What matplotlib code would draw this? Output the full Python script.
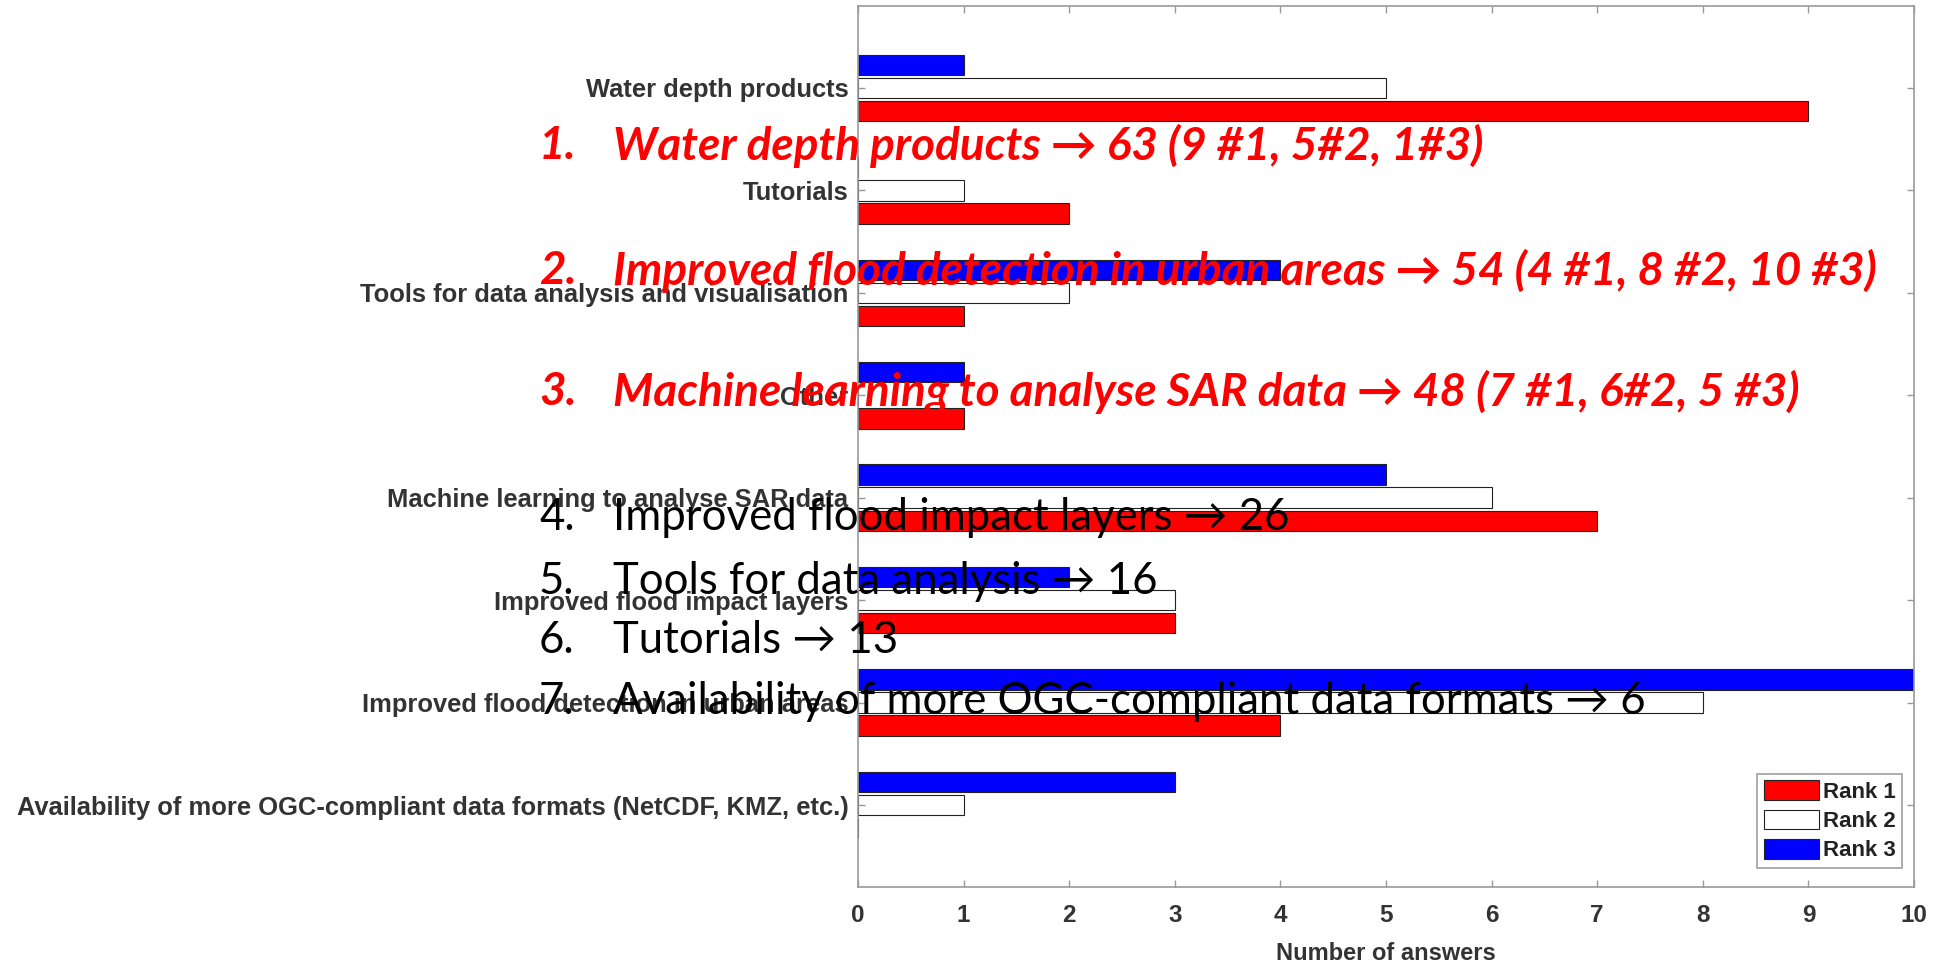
import numpy as np
import matplotlib.pyplot as plt
from matplotlib.patches import Patch

# Categories, top to bottom as in the chart
categories = [
    "Water depth products",
    "Tutorials",
    "Tools for data analysis and visualisation",
    "Other",
    "Machine learning to analyse SAR data",
    "Improved flood impact layers",
    "Improved flood detection in urban areas",
    "Availability of more OGC-compliant data formats (NetCDF, KMZ, etc.)",
]
rank1 = [9, 2, 1, 1, 7, 3, 4, 0]
rank2 = [5, 1, 2, 0, 6, 3, 8, 1]
rank3 = [1, 0, 4, 1, 5, 2, 10, 3]
rank_names = ["Rank 1", "Rank 2", "Rank 3"]
x_ticks = list(range(0, 11))

# Overlay summary list
top_lines = [
    "Water depth products \u2192 63 (9 #1, 5#2, 1#3)",
    "Improved flood detection in urban areas \u2192 54 (4 #1, 8 #2, 10 #3)",
    "Machine learning to analyse SAR data \u2192 48 (7 #1, 6#2, 5 #3)",
]
other_lines = [
    "Improved flood impact layers \u2192 26",
    "Tools for data analysis \u2192 16",
    "Tutorials \u2192 13",
    "Availability of more OGC-compliant data formats \u2192 6",
]

W, H = 1934, 963
fig = plt.figure(figsize=(W / 100, H / 100), dpi=100)
ax = fig.add_axes([858 / W, 1 - 887 / H, (1914 - 858) / W, (887 - 6) / H])

n = len(categories)
y = np.arange(n, 0, -1)  # top category gets the largest y
h = 0.2
off = 0.225
edge = "#222222"
ax.barh(y - off, rank1, height=h, color="#ff0000", edgecolor=edge, linewidth=0.8)
ax.barh(y, rank2, height=h, color="white", edgecolor=edge, linewidth=0.8)
ax.barh(y + off, rank3, height=h, color="#0000ff", edgecolor=edge, linewidth=0.8)

ax.set_xlim(0, 10)
ax.set_ylim(0.2, n + 0.8)
ax.set_xticks(x_ticks)
ax.set_yticks(y)
ax.set_yticklabels(categories)

lab_font = dict(family="Liberation Sans", weight="bold", size=17)
for lbl in ax.get_xticklabels():
    lbl.set_fontfamily("Liberation Sans")
    lbl.set_fontweight("bold")
    lbl.set_fontsize(17.5)
    lbl.set_color("#333333")
for lbl in ax.get_yticklabels():
    lbl.set_fontfamily("Liberation Sans")
    lbl.set_fontweight("bold")
    lbl.set_fontsize(18.4)
    lbl.set_color("#333333")

for s in ax.spines.values():
    s.set_color("#999999")
    s.set_linewidth(1.2)
ax.tick_params(axis="both", direction="in", color="#999999", length=5, width=1,
               top=True, right=True)
ax.tick_params(axis="y", pad=7)
ax.tick_params(axis="x", pad=12)
ax.set_xlabel("Number of answers", fontdict=lab_font, color="#333333", labelpad=11)

handles = [Patch(facecolor=c, edgecolor=edge, linewidth=0.8)
           for c in ["#ff0000", "white", "#0000ff"]]
leg = ax.legend(handles, rank_names, loc="lower right", bbox_to_anchor=(0.9886, 0.0216),
                prop=dict(family="Liberation Sans", weight="bold", size=16),
                frameon=True, fancybox=False, handlelength=2.5, handleheight=1.0,
                handletextpad=0.15, labelspacing=0.3, borderpad=0.3, borderaxespad=0)
leg.get_frame().set_edgecolor("#888888")
leg.get_frame().set_linewidth(1.2)
for t in leg.get_texts():
    t.set_color("#222222")

# Overlay text
big_font = ["Lato", "DejaVu Sans"]
num_x = 539 / W
txt_x = 613 / W
red_y = [146, 271, 392]
blk_y = [517, 581, 640, 702]
for i, (line, yy) in enumerate(zip(top_lines, red_y)):
    fig.text(num_x, 1 - yy / H, f"{i + 1}.", color="#ff0000", fontsize=33,
             fontweight="bold", fontstyle="italic", family=big_font, va="center")
    fig.text(txt_x, 1 - yy / H, line, color="#ff0000", fontsize=33,
             fontweight="bold", fontstyle="italic", family=big_font, va="center")
for i, (line, yy) in enumerate(zip(other_lines, blk_y)):
    fig.text(num_x, 1 - yy / H, f"{i + 4}.", color="black", fontsize=31.5,
             family=big_font, va="center")
    fig.text(txt_x, 1 - yy / H, line, color="black", fontsize=31.5,
             family=big_font, va="center")

fig.savefig("out.png", dpi=100)
